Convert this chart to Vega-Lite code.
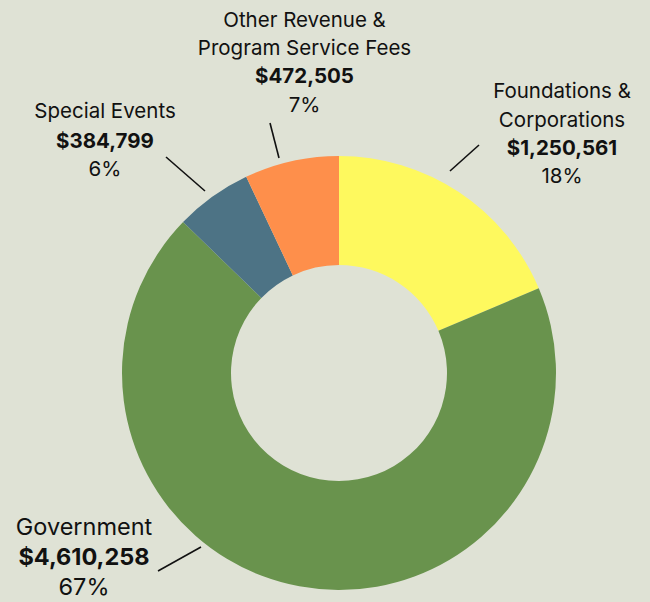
{
  "$schema": "https://vega.github.io/schema/vega-lite/v6.json",
  "width": 622,
  "height": 458,
  "autosize": {"type": "none"},
  "padding": {"left": 28, "top": 144, "right": 0, "bottom": 0},
  "background": "#DFE2D5",
  "config": {"view": {"stroke": null}, "font": "Inter"},
  "datasets": {
    "labels": [
      {"seg": "Other", "line": "Other Revenue &", "x": -34.5, "y": 346.3, "bold": 0},
      {"seg": "Other", "line": "Program Service Fees", "x": -34.5, "y": 318, "bold": 0},
      {"seg": "Other", "line": "$472,505", "x": -34.5, "y": 289.7, "bold": 1},
      {"seg": "Other", "line": "7%", "x": -34.5, "y": 261.3, "bold": 0},
      {"seg": "Special", "line": "Special Events", "x": -234, "y": 254.7, "bold": 0},
      {"seg": "Special", "line": "$384,799", "x": -234, "y": 224.7, "bold": 1},
      {"seg": "Special", "line": "6%", "x": -234, "y": 197, "bold": 0},
      {"seg": "Foundations", "line": "Foundations &", "x": 223, "y": 274.7, "bold": 0},
      {"seg": "Foundations", "line": "Corporations", "x": 223, "y": 245.7, "bold": 0},
      {"seg": "Foundations", "line": "$1,250,561", "x": 223, "y": 218, "bold": 1},
      {"seg": "Foundations", "line": "18%", "x": 223, "y": 189.7, "bold": 0},
      {"seg": "Government", "line": "Government", "x": -255, "y": -162, "bold": 0},
      {"seg": "Government", "line": "$4,610,258", "x": -255, "y": -192, "bold": 1},
      {"seg": "Government", "line": "67%", "x": -255, "y": -222, "bold": 0}
    ]
  },
  "layer": [
    {
      "data": {"values": [
        {"source": "Foundations & Corporations", "amount": 1250561, "ord": 1},
        {"source": "Government", "amount": 4610258, "ord": 2},
        {"source": "Special Events", "amount": 384799, "ord": 3},
        {"source": "Other Revenue & Program Service Fees", "amount": 472505, "ord": 4}
      ]},
      "mark": {"type": "arc", "outerRadius": 217, "innerRadius": 108},
      "encoding": {
        "theta": {"field": "amount", "type": "quantitative", "stack": true},
        "order": {"field": "ord", "type": "quantitative"},
        "color": {
          "field": "source", "type": "nominal", "legend": null,
          "scale": {
            "domain": ["Foundations & Corporations", "Government", "Special Events", "Other Revenue & Program Service Fees"],
            "range": ["#FEF95E", "#69934D", "#4D7385", "#FE8F4B"]
          }
        }
      }
    },
    {
      "data": {"values": [
        {"seg": "Other", "x1": -69, "y1": 250, "x2": -60, "y2": 215},
        {"seg": "Special", "x1": -173, "y1": 216, "x2": -134, "y2": 182},
        {"seg": "Foundations", "x1": 140, "y1": 228, "x2": 111, "y2": 202},
        {"seg": "Government", "x1": -181, "y1": -198, "x2": -138, "y2": -174}
      ]},
      "mark": {"type": "rule", "color": "#111111", "strokeWidth": 1.6},
      "encoding": {
        "x": {"field": "x1", "type": "quantitative", "scale": {"domain": [-311, 311], "nice": false, "zero": false}, "axis": null},
        "y": {"field": "y1", "type": "quantitative", "scale": {"domain": [-229, 229], "nice": false, "zero": false}, "axis": null},
        "x2": {"field": "x2"},
        "y2": {"field": "y2"}
      }
    },
    {
      "data": {"name": "labels"},
      "transform": [{"filter": "datum.bold == 0 && datum.seg != 'Government'"}],
      "mark": {"type": "text", "fontSize": 20.5, "align": "center", "baseline": "alphabetic", "color": "#111111"},
      "encoding": {
        "x": {"field": "x", "type": "quantitative", "scale": {"domain": [-311, 311], "nice": false, "zero": false}, "axis": null},
        "y": {"field": "y", "type": "quantitative", "scale": {"domain": [-229, 229], "nice": false, "zero": false}, "axis": null},
        "text": {"field": "line", "type": "nominal"}
      }
    },
    {
      "data": {"name": "labels"},
      "transform": [{"filter": "datum.bold == 1 && datum.seg != 'Government'"}],
      "mark": {"type": "text", "fontSize": 20.5, "fontWeight": "bold", "align": "center", "baseline": "alphabetic", "color": "#111111"},
      "encoding": {
        "x": {"field": "x", "type": "quantitative", "scale": {"domain": [-311, 311], "nice": false, "zero": false}, "axis": null},
        "y": {"field": "y", "type": "quantitative", "scale": {"domain": [-229, 229], "nice": false, "zero": false}, "axis": null},
        "text": {"field": "line", "type": "nominal"}
      }
    },
    {
      "data": {"name": "labels"},
      "transform": [{"filter": "datum.bold == 0 && datum.seg == 'Government'"}],
      "mark": {"type": "text", "fontSize": 23.5, "align": "center", "baseline": "alphabetic", "color": "#111111"},
      "encoding": {
        "x": {"field": "x", "type": "quantitative", "scale": {"domain": [-311, 311], "nice": false, "zero": false}, "axis": null},
        "y": {"field": "y", "type": "quantitative", "scale": {"domain": [-229, 229], "nice": false, "zero": false}, "axis": null},
        "text": {"field": "line", "type": "nominal"}
      }
    },
    {
      "data": {"name": "labels"},
      "transform": [{"filter": "datum.bold == 1 && datum.seg == 'Government'"}],
      "mark": {"type": "text", "fontSize": 23.5, "fontWeight": "bold", "align": "center", "baseline": "alphabetic", "color": "#111111"},
      "encoding": {
        "x": {"field": "x", "type": "quantitative", "scale": {"domain": [-311, 311], "nice": false, "zero": false}, "axis": null},
        "y": {"field": "y", "type": "quantitative", "scale": {"domain": [-229, 229], "nice": false, "zero": false}, "axis": null},
        "text": {"field": "line", "type": "nominal"}
      }
    }
  ]
}
